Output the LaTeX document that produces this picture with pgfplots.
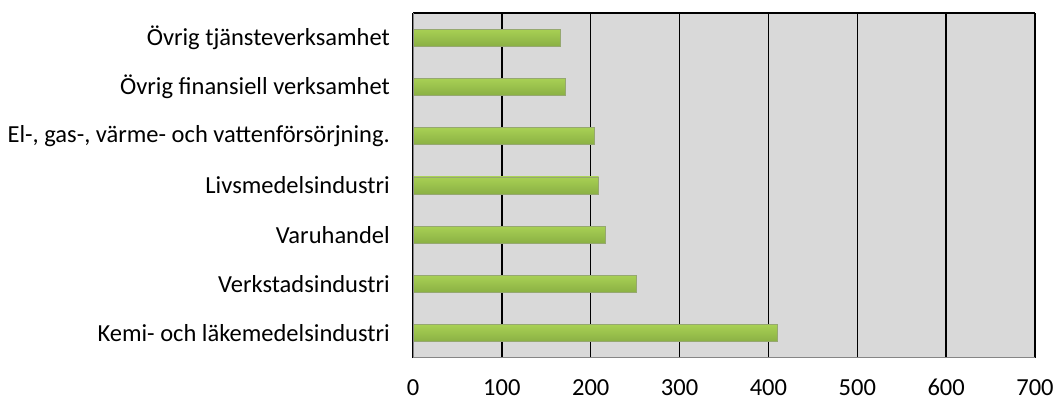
\documentclass[border=0pt]{standalone}
\usepackage{fontspec}
\setmainfont{Carlito}
\usepackage{pgfplots}
\pgfplotsset{compat=1.18}
\definecolor{bgray}{RGB}{217,217,217}
\definecolor{axgray}{RGB}{134,134,134}
\definecolor{gtop}{RGB}{168,208,84}
\definecolor{gbot}{RGB}{138,176,68}
\definecolor{gedge}{RGB}{150,168,112}
\tikzset{mybar/.style={draw=gedge, line width=0.8bp, top color=gtop, bottom color=gbot}}
\begin{document}
\begin{tikzpicture}
\path[use as bounding box] (0,0) rectangle (1056bp,400bp);
\begin{axis}[
  at={(413bp,42bp)}, anchor=south west,
  scale only axis, width=622bp, height=345bp,
  xbar, bar width=17bp, bar shift=0pt,
  xmin=0, xmax=700, xtick={0,100,...,700},
  ymin=-0.5, ymax=6.5, ytick={0,...,6},
  yticklabels={Kemi- och läkemedelsindustri, Verkstadsindustri, Varuhandel, Livsmedelsindustri, {El-, gas-, värme- och vattenförsörjning.}, Övrig finansiell verksamhet, Övrig tjänsteverksamhet},
  font=\fontsize{24.5bp}{29bp}\selectfont,
  tick label style={font=\fontsize{24.5bp}{29bp}\selectfont, text=black},
  /pgf/number format/assume math mode=true,
  yticklabel style={inner sep=0pt, anchor=east},
  yticklabel shift=23bp,
  xticklabel style={inner sep=0pt, anchor=north},
  xticklabel shift=21bp,
  major tick length=0pt,
  tick style={draw=none},
  axis line style={draw=none},
  axis background/.style={fill=bgray},
  xmajorgrids, major grid style={black, line width=1.5bp},
]
\addplot[mybar] coordinates {(410,0)};
\addplot[mybar] coordinates {(251,1)};
\addplot[mybar] coordinates {(216,2)};
\addplot[mybar] coordinates {(209,3)};
\addplot[mybar] coordinates {(204,4)};
\addplot[mybar] coordinates {(172,5)};
\addplot[mybar] coordinates {(166,6)};
\draw[black, line width=1.6bp] (rel axis cs:0,1) -- (rel axis cs:1,1) -- (rel axis cs:1,0);
\draw[axgray, line width=1.8bp] (rel axis cs:0,1) -- (rel axis cs:0,0) -- (rel axis cs:1,0);
\end{axis}
\end{tikzpicture}
\end{document}
